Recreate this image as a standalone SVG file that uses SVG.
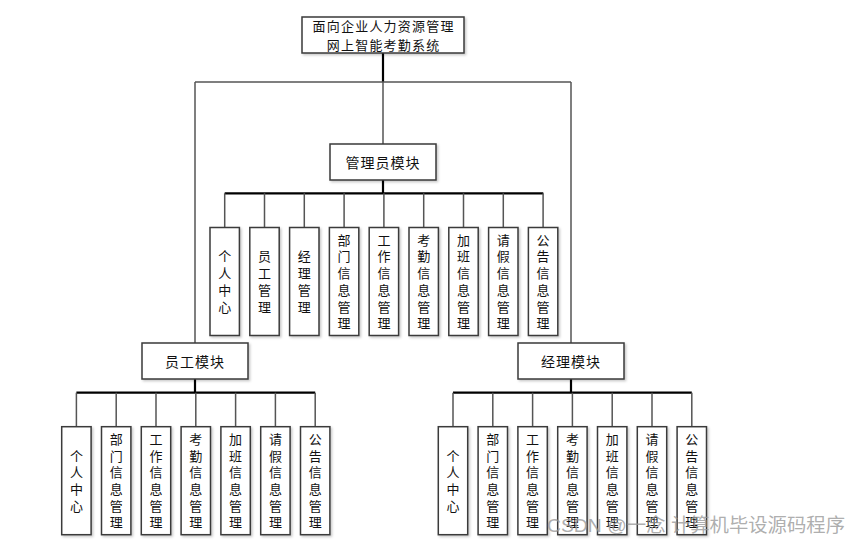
<svg xmlns="http://www.w3.org/2000/svg" width="860" height="545" viewBox="0 0 860 545">
<defs>
<filter id="sh" x="-20%" y="-20%" width="140%" height="140%"><feDropShadow dx="1.5" dy="1.5" stdDeviation="1" flood-color="#000" flood-opacity="0.22"/></filter>
</defs>
<style>
.b{fill:#fff;stroke:#3a3a3a;stroke-width:1.5;filter:url(#sh)}
.t{font-family:"Noto Sans CJK SC","Microsoft YaHei",sans-serif;font-size:14px;fill:#111;text-anchor:middle;dominant-baseline:central}
.h{font-size:13px;letter-spacing:1.2px}
.v{font-family:"Noto Sans CJK SC","Microsoft YaHei",sans-serif;font-size:13px;fill:#111;text-anchor:middle;writing-mode:vertical-rl;text-orientation:upright;letter-spacing:3.7px}
.l{fill:none;stroke:#555;stroke-width:1.5}
.k{fill:none;stroke:#000;stroke-width:2.2}
.wm{font-family:"Liberation Sans","Noto Sans CJK SC",sans-serif;font-size:19px;fill:#999;fill-opacity:0.8}
</style>
<rect width="860" height="545" fill="#fff"/>
<g id="connectors">
<path class="k" d="M383 53V82"/>
<path class="l" d="M195 82H571M195 82V343M571 82V343M383 82V144"/>
<path class="k" d="M383 180V193.3"/>
<path class="k" d="M224.7 193.3H543.3" stroke-width="1.3"/>
<path class="l" d="M224.7 193.3V227.5M264.5 193.3V227.5M304.3 193.3V227.5M344.1 193.3V227.5M383.9 193.3V227.5M423.7 193.3V227.5M463.5 193.3V227.5M503.3 193.3V227.5M543.1 193.3V227.5"/>
<path class="k" d="M195 379V392.7M571 379V392.7"/>
<path class="k" d="M76.4 392.7H315.2M453 392.7H691.8" stroke-width="1.3"/>
<path class="l" d="M76.4 392.7V426.7M116.2 392.7V426.7M156 392.7V426.7M195.8 392.7V426.7M235.6 392.7V426.7M275.4 392.7V426.7M315.2 392.7V426.7"/>
<path class="l" d="M453 392.7V426.7M492.8 392.7V426.7M532.6 392.7V426.7M572.4 392.7V426.7M612.2 392.7V426.7M652 392.7V426.7M691.8 392.7V426.7"/>
</g>
<g id="root"><rect class="b" x="302" y="17" width="162" height="36"/><text class="t h" x="383.6" y="25.8">面向企业人力资源管理</text><text class="t h" x="383.6" y="44.7">网上智能考勤系统</text></g>
<g id="admin"><rect class="b" x="330" y="144" width="106" height="36"/><text class="t" x="383" y="162" letter-spacing="1">管理员模块</text></g>
<g id="employee"><rect class="b" x="142" y="343" width="106" height="36"/><text class="t" x="195" y="361" letter-spacing="1">员工模块</text></g>
<g id="manager"><rect class="b" x="518" y="343" width="106" height="36"/><text class="t" x="571" y="361" letter-spacing="1">经理模块</text></g>

<g id="a1"><rect class="b" x="210" y="227.5" width="29.4" height="108"/><text class="v" x="224.7" y="283.4">个人中心</text></g>
<g id="a2"><rect class="b" x="249.8" y="227.5" width="29.4" height="108"/><text class="v" x="264.5" y="283.4">员工管理</text></g>
<g id="a3"><rect class="b" x="289.6" y="227.5" width="29.4" height="108"/><text class="v" x="304.3" y="283.4">经理管理</text></g>
<g id="a4"><rect class="b" x="329.4" y="227.5" width="29.4" height="108"/><text class="v" x="344.1" y="283.4">部门信息管理</text></g>
<g id="a5"><rect class="b" x="369.2" y="227.5" width="29.4" height="108"/><text class="v" x="383.9" y="283.4">工作信息管理</text></g>
<g id="a6"><rect class="b" x="409" y="227.5" width="29.4" height="108"/><text class="v" x="423.7" y="283.4">考勤信息管理</text></g>
<g id="a7"><rect class="b" x="448.8" y="227.5" width="29.4" height="108"/><text class="v" x="463.5" y="283.4">加班信息管理</text></g>
<g id="a8"><rect class="b" x="488.6" y="227.5" width="29.4" height="108"/><text class="v" x="503.3" y="283.4">请假信息管理</text></g>
<g id="a9"><rect class="b" x="528.4" y="227.5" width="29.4" height="108"/><text class="v" x="543.1" y="283.4">公告信息管理</text></g>

<g id="e1"><rect class="b" x="61.7" y="426.7" width="29.4" height="108"/><text class="v" x="76.4" y="482.6">个人中心</text></g>
<g id="e2"><rect class="b" x="101.5" y="426.7" width="29.4" height="108"/><text class="v" x="116.2" y="482.6">部门信息管理</text></g>
<g id="e3"><rect class="b" x="141.3" y="426.7" width="29.4" height="108"/><text class="v" x="156" y="482.6">工作信息管理</text></g>
<g id="e4"><rect class="b" x="181.1" y="426.7" width="29.4" height="108"/><text class="v" x="195.8" y="482.6">考勤信息管理</text></g>
<g id="e5"><rect class="b" x="220.9" y="426.7" width="29.4" height="108"/><text class="v" x="235.6" y="482.6">加班信息管理</text></g>
<g id="e6"><rect class="b" x="260.7" y="426.7" width="29.4" height="108"/><text class="v" x="275.4" y="482.6">请假信息管理</text></g>
<g id="e7"><rect class="b" x="300.5" y="426.7" width="29.4" height="108"/><text class="v" x="315.2" y="482.6">公告信息管理</text></g>

<g id="m1"><rect class="b" x="438.3" y="426.7" width="29.4" height="108"/><text class="v" x="453" y="482.6">个人中心</text></g>
<g id="m2"><rect class="b" x="478.1" y="426.7" width="29.4" height="108"/><text class="v" x="492.8" y="482.6">部门信息管理</text></g>
<g id="m3"><rect class="b" x="517.9" y="426.7" width="29.4" height="108"/><text class="v" x="532.6" y="482.6">工作信息管理</text></g>
<g id="m4"><rect class="b" x="557.7" y="426.7" width="29.4" height="108"/><text class="v" x="572.4" y="482.6">考勤信息管理</text></g>
<g id="m5"><rect class="b" x="597.5" y="426.7" width="29.4" height="108"/><text class="v" x="612.2" y="482.6">加班信息管理</text></g>
<g id="m6"><rect class="b" x="637.3" y="426.7" width="29.4" height="108"/><text class="v" x="652" y="482.6">请假信息管理</text></g>
<g id="m7"><rect class="b" x="677.1" y="426.7" width="29.4" height="108"/><text class="v" x="691.8" y="482.6">公告信息管理</text></g>

<text class="wm" x="547" y="532" textLength="298" lengthAdjust="spacingAndGlyphs">CSDN @一念 计算机毕设源码程序</text>
</svg>
